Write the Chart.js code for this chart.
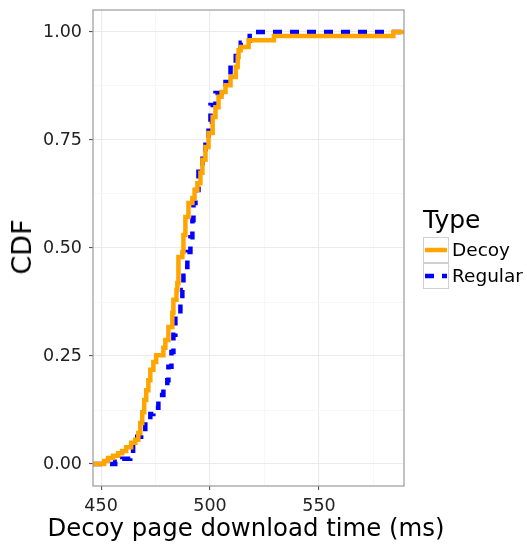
<!DOCTYPE html>
<html><head><meta charset="utf-8">
<script src="https://cdn.jsdelivr.net/npm/chart.js@4/dist/chart.umd.min.js"></script>
<style>
html,body{margin:0;padding:0;background:#fff;}
#wrap{position:relative;width:527px;height:550px;overflow:hidden;font-family:"DejaVu Sans",sans-serif;color:#000;}
#c{position:absolute;left:0;top:0;}
.axtitle{position:absolute;white-space:nowrap;line-height:30px;}
#xtitle{left:246px;top:513px;transform:translateX(-50%);font-size:24.4px;}
#ytitle{left:22px;top:247px;transform:translate(-50%,-50%) rotate(-90deg);font-size:27px;}
#legend{position:absolute;left:423px;top:205px;}
#legend .title{font-size:25px;line-height:30px;margin-bottom:2px;}
#legend .row{display:flex;align-items:center;height:26px;}
#legend .row svg{display:block;margin-right:3px;}
#legend .row span{font-size:18.5px;line-height:26px;}
</style></head>
<body><div id="wrap"><canvas id="c" width="527" height="550"></canvas>
<div id="xtitle" class="axtitle"></div><div id="ytitle" class="axtitle"></div><div id="legend"></div></div>
<script>
// ---- data ----
const seriesNames = ['Decoy', 'Regular'];
const decoyTimes = [451.4,453.2,455.5,457.8,459.7,461.5,463.8,465.7,467.1,468.0,468.9,469.8,470.7,471.7,472.6,474.0,475.3,478.6,479.5,480.9,482.7,483.2,484.6,485.0,485.5,487.3,487.8,488.7,490.1,491.9,492.9,494.2,495.6,496.5,497.9,499.3,501.2,502.5,503.9,505.3,507.1,509.4,511.8,512.7,513.1,514.1,517.7,529.3,584.1];
const decoyCdf = [0.007,0.014,0.019,0.025,0.030,0.039,0.049,0.056,0.072,0.095,0.120,0.148,0.171,0.194,0.218,0.236,0.252,0.269,0.287,0.317,0.350,0.380,0.403,0.419,0.479,0.491,0.530,0.572,0.604,0.616,0.634,0.650,0.674,0.704,0.734,0.766,0.803,0.826,0.850,0.861,0.877,0.896,0.919,0.942,0.958,0.965,0.981,0.991,1.0];
const regularTimes = [456.5,459.7,463.4,464.7,466.6,468.4,470.3,472.6,474.0,476.3,478.6,480.4,480.9,482.3,483.2,484.1,486.4,487.3,487.8,489.6,491.0,491.9,492.4,493.3,494.7,496.5,497.9,499.3,500.2,502.5,507.1,509.4,511.8,514.1,518.2];
const regularCdf = [0.005,0.012,0.021,0.044,0.063,0.072,0.097,0.116,0.130,0.160,0.181,0.194,0.225,0.259,0.299,0.345,0.373,0.403,0.456,0.491,0.525,0.565,0.604,0.634,0.685,0.722,0.755,0.792,0.831,0.859,0.884,0.917,0.951,0.975,1.0];
const xTicks = [450, 475, 500, 525, 550, 575];
const xTickLabels = ['450', '500', '550'];
const yTicks = [0, 0.125, 0.25, 0.375, 0.5, 0.625, 0.75, 0.875, 1];
const yTickLabels = ['0.00', '0.25', '0.50', '0.75', '1.00'];
const xTitle = 'Decoy page download time (ms)';
const yTitle = 'CDF';
const legendTitle = 'Type';
const xRange = [446.3, 589.0];
const yRange = [-0.0509, 1.0509];
const colors = ['#FFA500', '#0000FF'];

function ecdfPoints(times, cdf) {
  const pts = [{x: xRange[0], y: 0}];
  times.forEach((t, i) => pts.push({x: t, y: cdf[i]}));
  pts.push({x: xRange[1], y: 1});
  return pts;
}

const FONT = "'DejaVu Sans', sans-serif";
const isMajorX = v => xTickLabels.includes(String(v));
const isMajorY = v => Math.abs(v * 4 - Math.round(v * 4)) < 1e-9 && yTickLabels.includes(v.toFixed(2));

const panelBorder = {
  id: 'panelBorder',
  afterDatasetsDraw(chart) {
    const {ctx, chartArea: a} = chart;
    ctx.save();
    ctx.strokeStyle = '#9a9a9a';
    ctx.lineWidth = 1.2;
    ctx.strokeRect(a.left, a.top, a.right - a.left, a.bottom - a.top);
    ctx.restore();
  }
};

const chart = new Chart(document.getElementById('c'), {
  type: 'line',
  data: {
    datasets: [
      {label: seriesNames[0], data: ecdfPoints(decoyTimes, decoyCdf), borderColor: colors[0], borderWidth: 4.5, stepped: true, pointRadius: 0, fill: false, borderCapStyle: 'butt', borderJoinStyle: 'miter'},
      {label: seriesNames[1], data: ecdfPoints(regularTimes, regularCdf), borderColor: colors[1], borderWidth: 4.5, stepped: true, pointRadius: 0, fill: false, borderDash: [9, 8], borderCapStyle: 'butt', borderJoinStyle: 'miter'}
    ]
  },
  options: {
    responsive: false,
    animation: false,
    devicePixelRatio: 1,
    layout: {padding: {left: 0, top: 10, right: 123, bottom: 0}},
    plugins: {legend: {display: false}, tooltip: {enabled: false}},
    scales: {
      x: {
        type: 'linear', min: xRange[0], max: xRange[1],
        afterBuildTicks: s => { s.ticks = xTicks.map(v => ({value: v})); },
        afterFit: s => { s.height = 64; s.paddingLeft = 0; s.paddingRight = 0; },
        border: {display: false},
        grid: {
          color: c => isMajorX(c.tick.value) ? '#ebebeb' : '#f5f5f5',
          lineWidth: c => isMajorX(c.tick.value) ? 1.1 : 0.8,
          tickColor: c => isMajorX(c.tick.value) ? '#555' : 'rgba(0,0,0,0)',
          tickLength: 4, drawTicks: true
        },
        ticks: {
          autoSkip: false, maxRotation: 0, padding: 6,
          color: '#222', font: {family: FONT, size: 17.5},
          callback: v => isMajorX(v) ? String(v) : ''
        },
        title: {display: false}
      },
      y: {
        type: 'linear', min: yRange[0], max: yRange[1],
        afterBuildTicks: s => { s.ticks = yTicks.map(v => ({value: v})); },
        afterFit: s => { s.width = 93; s.paddingTop = 0; s.paddingBottom = 0; },
        border: {display: false},
        grid: {
          color: c => isMajorY(c.tick.value) ? '#ebebeb' : '#f5f5f5',
          lineWidth: c => isMajorY(c.tick.value) ? 1.1 : 0.8,
          tickColor: c => isMajorY(c.tick.value) ? '#555' : 'rgba(0,0,0,0)',
          tickLength: 4, drawTicks: true
        },
        ticks: {
          autoSkip: false, padding: 7,
          color: '#222', font: {family: FONT, size: 17.5},
          callback: v => isMajorY(v) ? v.toFixed(2) : ''
        },
        title: {display: false}
      }
    }
  },
  plugins: [panelBorder]
});

document.getElementById('xtitle').textContent = xTitle;
document.getElementById('ytitle').textContent = yTitle;

// legend built from the datasets
const leg = document.getElementById('legend');
let html = '<div class="title">' + legendTitle + '</div>';
chart.data.datasets.forEach((d, i) => {
  const dash = d.borderDash ? ' stroke-dasharray="' + d.borderDash.join(' ') + '"' : '';
  html += '<div class="row"><svg width="26" height="26"><rect x="0.5" y="0.5" width="25" height="25" fill="#fff" stroke="#d0d0d0"/>' +
    '<line x1="2" y1="13" x2="24" y2="13" stroke="' + d.borderColor + '" stroke-width="' + d.borderWidth + '"' + dash + '/></svg><span>' + d.label + '</span></div>';
});
leg.innerHTML = html;
</script>
</body></html>
